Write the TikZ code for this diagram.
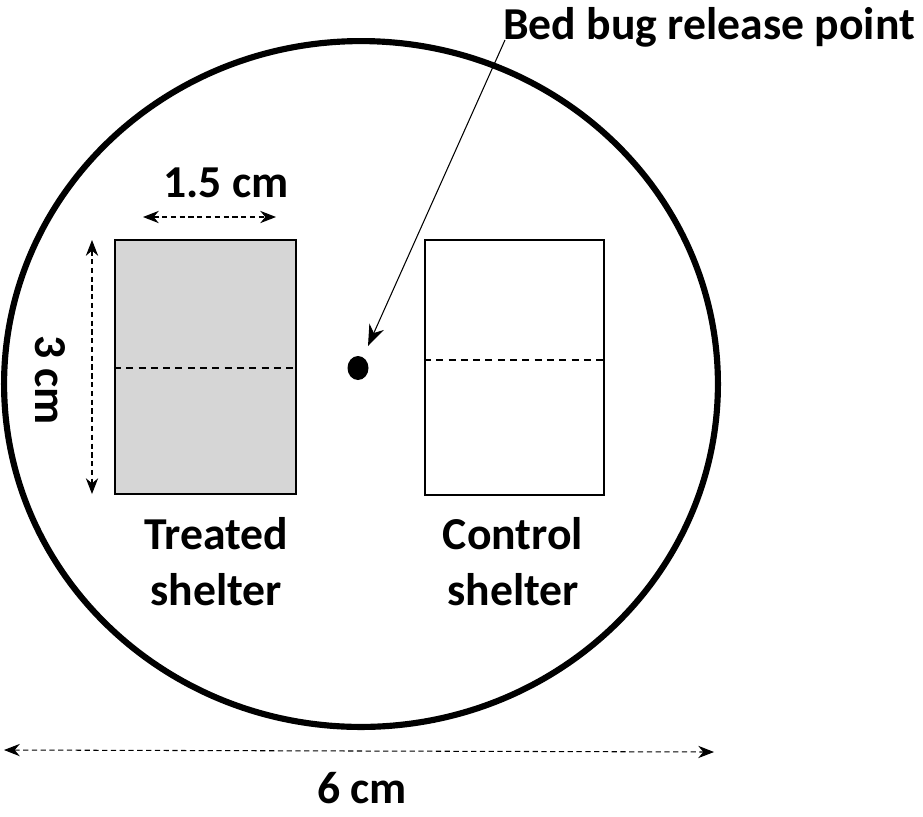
\documentclass[tikz,border=0pt]{standalone}
\usepackage{fontspec}
\setmainfont{Carlito}
\usetikzlibrary{arrows.meta,shapes.geometric}
\begin{document}
\begin{tikzpicture}[x=0.02cm,y=-0.02cm,
  lbl/.style={font=\bfseries\fontsize{26}{30}\selectfont, inner sep=0pt, align=center},
  dim/.style={densely dashed, line width=0.6pt, {Stealth[length=9pt,width=7pt]}-{Stealth[length=9pt,width=7pt]}},
  mid/.style={dash pattern=on 4pt off 3pt, line width=1.2pt},
  shelter/.style={draw, line width=1.2pt}]
\useasboundingbox (0,0) rectangle (923,816);
\node[draw, ellipse, line width=3.5pt, minimum width=14.28cm, minimum height=13.72cm, inner sep=0pt] (dish) at (361,384) {};
\node[shelter, fill=black!16, minimum width=3.62cm, minimum height=5.08cm, inner sep=0pt] (treated) at (205.5,367) {};
\node[shelter, minimum width=3.58cm, minimum height=5.1cm, inner sep=0pt] (control) at (514.5,367.5) {};
\draw[mid] (treated.west |- 0,368) coordinate (t1) -- (treated.east |- 0,368) coordinate (t2);
\draw[mid] (control.west |- 0,360) coordinate (c1) -- (control.east |- 0,360) coordinate (c2);
\node[fill=black, ellipse, minimum width=0.42cm, minimum height=0.48cm, inner sep=0pt] (dot) at (358,368) {};
\node[lbl, anchor=west] (rel) at (503,27) {Bed bug release point};
\coordinate (relarr) at (505,40);
\draw[-{Stealth[length=12pt,width=9pt]}, line width=0.6pt] (relarr) -- (368,346);
\node[lbl] (w) at (226,183) {1.5 cm};
\coordinate (w1) at (143,217); \coordinate (w2) at (276,217);
\draw[dim] (w1) -- (w2);
\coordinate (h1) at (92,240); \coordinate (h2) at (92,494);
\draw[dim] (h1) -- (h2);
\node[lbl, rotate=-90] (h) at (50,380) {3 cm};
\coordinate (d1) at (4,750); \coordinate (d2) at (714,752);
\draw[dim] (d1) -- (d2);
\node[lbl] (dl) at (362,788) {6 cm};
\node[lbl] (tl) at (216,562) {Treated\\[2pt]shelter};
\node[lbl] (cl) at (513,562) {Control\\[2pt]shelter};
\end{tikzpicture}
\end{document}
